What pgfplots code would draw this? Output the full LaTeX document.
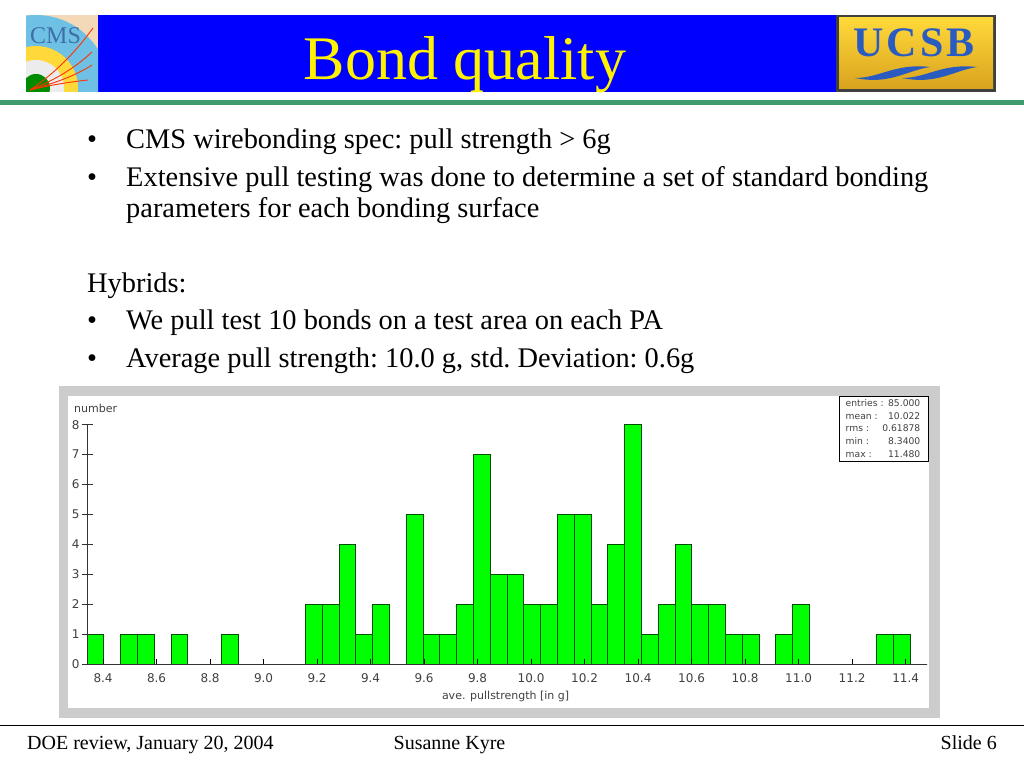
\documentclass[border=0pt]{standalone}
\usepackage{fontspec}
\setmainfont{Liberation Serif}
\newfontfamily\chartfont{DejaVu Sans}
\usepackage{pgfplots}
\pgfplotsset{compat=1.18}
\definecolor{slideblue}{HTML}{0000FF}
\definecolor{barline}{HTML}{3F9B6E}
\definecolor{panel}{HTML}{CCCCCC}
\definecolor{bargreen}{HTML}{00FF00}
\definecolor{axgray}{HTML}{333333}
\definecolor{cmsbg}{HTML}{F3D9B8}
\definecolor{cmssky}{HTML}{6EC1E4}
\definecolor{cmstext}{HTML}{3F6FA8}
\definecolor{goldA}{HTML}{FFD93A}
\definecolor{goldB}{HTML}{D9A21E}
\definecolor{ucsbblue}{HTML}{2A5BC0}
\newcommand{\body}{\frenchspacing\fontsize{28.4}{30}\selectfont}
\newcommand{\foot}{\frenchspacing\fontsize{20}{22}\selectfont}
\begin{document}
\begin{tikzpicture}[x=1pt,y=1pt]
\useasboundingbox (0,0) rectangle (1024,768);
\fill[white] (0,0) rectangle (1024,768);
% header
\fill[slideblue] (98,676) rectangle (836,753);
\fill[barline] (0,663) rectangle (1024,668);
\node[anchor=base,text=yellow,inner sep=0pt] at (465,688.5) {\fontsize{62}{64}\selectfont Bond quality};
% CMS logo
\begin{scope}
\clip (26,676) rectangle (98,753);
\fill[cmsbg] (26,676) rectangle (98,753);
\fill[cmssky] (36,680) circle[radius=73];
\fill[goldA] (36,680) circle[radius=42];
\fill[white!85!gray] (36,680) circle[radius=28];
\fill[green!55!black] (36,680) circle[radius=14];
\draw[red!60!orange,line width=0.9pt] (30,678) .. controls (55,695) and (75,715) .. (93,740);
\draw[red!60!orange,line width=0.9pt] (30,678) .. controls (55,688) and (75,700) .. (92,716);
\draw[red!60!orange,line width=0.9pt] (30,678) .. controls (55,685) and (75,692) .. (92,703);
\draw[red!60!orange,line width=0.9pt] (30,678) .. controls (50,683) and (70,686) .. (88,688);
\node[anchor=base west,inner sep=0pt,text=cmstext] at (30,724) {\fontsize{24}{26}\selectfont CMS};
\end{scope}
% UCSB logo
\fill[black!75] (836,676) rectangle (996,753);
\shade[top color=goldA,bottom color=goldB] (839,679) rectangle (993,750);
\node[anchor=base,inner sep=0pt,text=ucsbblue] at (914,711) {\fontsize{42}{44}\selectfont\bfseries U\hspace{3pt}C\hspace{3pt}S\hspace{3pt}B};
\fill[ucsbblue] (855,690) .. controls (880,690) and (895,705) .. (930,701) .. controls (905,697) and (890,683) .. (855,690) -- cycle;
\fill[ucsbblue] (902,690) .. controls (927,690) and (942,705) .. (977,701) .. controls (952,697) and (937,683) .. (902,690) -- cycle;
% text
\node[anchor=base west,inner sep=0pt] at (87,619) {\body •};
\node[anchor=base west,inner sep=0pt] at (126,619) {\body CMS wirebonding spec: pull strength > 6g};
\node[anchor=base west,inner sep=0pt] at (87,581) {\body •};
\node[anchor=base west,inner sep=0pt] at (126,581) {\body Extensive pull testing was done to determine a set of standard bonding};
\node[anchor=base west,inner sep=0pt] at (126,550) {\body parameters for each bonding surface};
\node[anchor=base west,inner sep=0pt] at (87,475) {\body Hybrids:};
\node[anchor=base west,inner sep=0pt] at (87,438) {\body •};
\node[anchor=base west,inner sep=0pt] at (126,438) {\body We pull test 10 bonds on a test area on each PA};
\node[anchor=base west,inner sep=0pt] at (87,400) {\body •};
\node[anchor=base west,inner sep=0pt] at (126,400) {\body Average pull strength: 10.0 g, std. Deviation: 0.6g};
% panel
\fill[panel] (59,50) rectangle (940,382);
\fill[white] (68,60) rectangle (929,372);
\begin{axis}[
  at={(87pt,104pt)},anchor=south west,
  scale only axis,width=840pt,height=239.3pt,
  xmin=8.34,xmax=11.48,ymin=0,ymax=8,
  axis x line*=bottom,axis y line*=left,
  axis line style={axgray,line width=0.9pt,-},
  xtick={8.4,8.6,8.8,9.0,9.2,9.4,9.6,9.8,10.0,10.2,10.4,10.6,10.8,11.0,11.2,11.4},
  minor xtick={8.4,8.6,8.8,9.0,9.2,9.4,9.6,9.8,10.0,10.2,10.4,10.6,10.8,11.0,11.2,11.4},
  ytick={0,1,2,3,4,5,6,7,8},
  major tick length=11pt,minor tick length=5.5pt,
  major x tick style={draw=none},
  minor x tick style={black,line width=0.8pt},
  y tick style={axgray,line width=0.9pt},
  xtick align=inside,ytick align=center,
  tick label style={font=\chartfont\fontsize{12}{14}\selectfont,text=black!75},
  /pgf/number format/assume math mode=true,
  x tick label style={/pgf/number format/fixed,/pgf/number format/fixed zerofill,/pgf/number format/precision=1,yshift=-6pt},
  y tick label style={xshift=1.5pt},
  axis on top,
  clip=false,
  xlabel={ave. pullstrength [in g]},ylabel={number},
  every axis x label/.style={at={(axis description cs:0.4983,0)},anchor=north,yshift=-24pt,font=\chartfont\fontsize{11}{13}\selectfont,text=black!75},
  every axis y label/.style={at={(axis description cs:-0.0155,1)},anchor=south west,inner sep=0pt,yshift=12pt,rotate=0,font=\chartfont\fontsize{11}{13}\selectfont,text=black!75},
]
\addplot[ybar interval,fill=bargreen,draw=black!70!green,line width=0.8pt] coordinates {
(8.3400,1)(8.4028,0)(8.4656,1)(8.5284,1)(8.5912,0)(8.6540,1)(8.7168,0)(8.7796,0)(8.8424,1)(8.9052,0)
(8.9680,0)(9.0308,0)(9.0936,0)(9.1564,2)(9.2192,2)(9.2820,4)(9.3448,1)(9.4076,2)(9.4704,0)(9.5332,5)
(9.5960,1)(9.6588,1)(9.7216,2)(9.7844,7)(9.8472,3)(9.9100,3)(9.9728,2)(10.0356,2)(10.0984,5)(10.1612,5)
(10.2240,2)(10.2868,4)(10.3496,8)(10.4124,1)(10.4752,2)(10.5380,4)(10.6008,2)(10.6636,2)(10.7264,1)(10.7892,1)
(10.8520,0)(10.9148,1)(10.9776,2)(11.0404,0)(11.1032,0)(11.1660,0)(11.2288,0)(11.2916,1)(11.3544,1)(11.4172,0)
(11.4800,0)};
\end{axis}
% stats box
\draw[black,line width=0.9pt,fill=white] (839,307) rectangle (928,372);
\begin{scope}[every node/.style={inner sep=0pt,text=black!75,font=\chartfont\fontsize{9.2}{11}\selectfont}]
\foreach \yy/\aa/\bb in {364.5/entries :/85.000,351.5/mean :/10.022,339/rms :/0.61878,326.5/min :/8.3400,313.5/max :/11.480}{
  \node[anchor=base west] at (845.5,\yy-3) {\aa};
  \node[anchor=base east] at (920.5,\yy-3) {\bb};
}
\end{scope}
% footer
\draw[black,line width=0.8pt] (0,43) -- (1024,43);
\node[anchor=base west,inner sep=0pt] at (27,18.5) {\foot DOE review, January 20, 2004};
\node[anchor=base,inner sep=0pt] at (449.5,18.5) {\foot Susanne Kyre};
\node[anchor=base east,inner sep=0pt] at (997,18.5) {\foot Slide 6};
\end{tikzpicture}
\end{document}
